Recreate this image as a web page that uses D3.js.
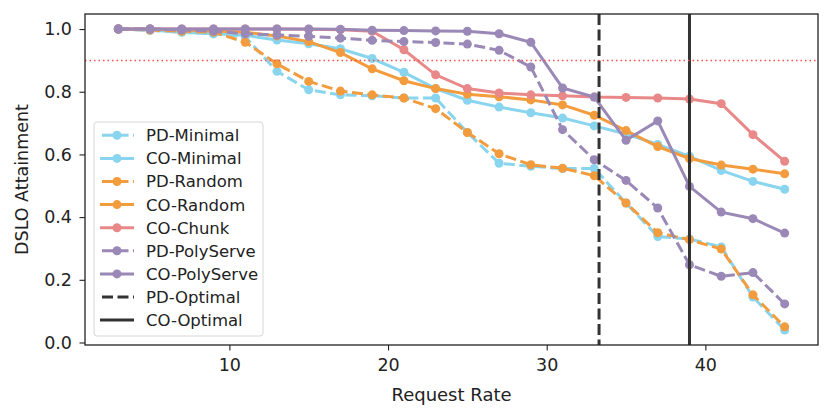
<!DOCTYPE html>
<html>
<head>
<meta charset="utf-8">
<script src="https://cdn.jsdelivr.net/npm/d3@7"></script>
<style>
  body { margin: 0; background: #fff; }
  text { font-family: "DejaVu Sans", sans-serif; fill: #222; }
</style>
</head>
<body>
<svg id="chart" width="831" height="419"></svg>
<script>
// request rates
var rates = [3, 5, 7, 9, 11, 13, 15, 17, 19, 21, 23, 25, 27, 29, 31, 33, 35, 37, 39, 41, 43, 45];

var pdMinimal = [1.0, 0.995, 0.99, 0.985, 0.975, 0.865, 0.806, 0.79, 0.787, 0.78, 0.78, 0.67, 0.572, 0.562, 0.555, 0.555, 0.445, 0.338, 0.33, 0.305, 0.145, 0.04];
var coMinimal = [1.0, 0.997, 0.99, 0.985, 0.98, 0.965, 0.953, 0.937, 0.906, 0.862, 0.81, 0.773, 0.751, 0.733, 0.716, 0.691, 0.665, 0.632, 0.594, 0.549, 0.514, 0.489];
var pdRandom = [1.0, 0.997, 0.993, 0.99, 0.958, 0.889, 0.833, 0.802, 0.79, 0.78, 0.746, 0.67, 0.602, 0.567, 0.556, 0.532, 0.445, 0.35, 0.328, 0.298, 0.152, 0.05];
var coRandom = [1.0, 1.0, 0.997, 0.994, 0.99, 0.978, 0.96, 0.925, 0.873, 0.835, 0.81, 0.792, 0.784, 0.774, 0.758, 0.725, 0.676, 0.625, 0.587, 0.566, 0.553, 0.538];
var coChunk = [1.0, 1.0, 1.0, 1.0, 1.0, 1.0, 0.999, 0.998, 0.993, 0.934, 0.854, 0.81, 0.796, 0.79, 0.787, 0.783, 0.782, 0.78, 0.777, 0.762, 0.663, 0.578];
var pdPoly = [1.0, 1.0, 0.997, 0.993, 0.985, 0.981, 0.977, 0.971, 0.964, 0.96, 0.957, 0.952, 0.932, 0.879, 0.679, 0.583, 0.517, 0.429, 0.248, 0.211, 0.223, 0.123];
var coPoly = [1.0, 1.0, 1.0, 1.0, 1.0, 1.0, 1.0, 0.999, 0.996, 0.995, 0.994, 0.993, 0.985, 0.958, 0.812, 0.783, 0.645, 0.707, 0.498, 0.416, 0.395, 0.349];

var pdOptimal = 33.3;
var coOptimal = 39;
var sloTarget = 0.9;

var yTicks = [0.0, 0.2, 0.4, 0.6, 0.8, 1.0];
var xTicks = [10, 20, 30, 40];

var cyan = '#89d4ee', orange = '#f39c3e', pink = '#e98888', purple = '#9a88b6';

var series = [
  {name: 'PD-Minimal', values: pdMinimal, color: cyan, dashed: true},
  {name: 'CO-Minimal', values: coMinimal, color: cyan, dashed: false},
  {name: 'PD-Random', values: pdRandom, color: orange, dashed: true},
  {name: 'CO-Random', values: coRandom, color: orange, dashed: false},
  {name: 'CO-Chunk', values: coChunk, color: pink, dashed: false},
  {name: 'PD-PolyServe', values: pdPoly, color: purple, dashed: true},
  {name: 'CO-PolyServe', values: coPoly, color: purple, dashed: false}
];

var margin = {top: 14, right: 13, bottom: 74, left: 85};
var width = 831 - margin.left - margin.right;
var height = 419 - margin.top - margin.bottom;

var svg = d3.select('#chart');
var g = svg.append('g').attr('transform', 'translate(' + margin.left + ',' + margin.top + ')');

// matplotlib-style 5% padding
var xPad = (d3.max(rates) - d3.min(rates)) * 0.05;
var allVals = d3.merge(series.map(function (s) { return s.values; }));
var yMin = d3.min(allVals), yMax = d3.max(allVals);
var yPad = (yMax - yMin) * 0.05;

var x = d3.scaleLinear().domain([d3.min(rates) - xPad, d3.max(rates) + xPad]).range([0, width]);
var y = d3.scaleLinear().domain([yMin - yPad, yMax + yPad]).range([height, 0]);

var dash = '11,4.5';

var line = d3.line()
  .x(function (d, i) { return x(rates[i]); })
  .y(function (d) { return y(d); });

series.forEach(function (s) {
  g.append('path')
    .attr('d', line(s.values))
    .attr('fill', 'none')
    .attr('stroke', s.color)
    .attr('stroke-width', 3)
    .attr('stroke-dasharray', s.dashed ? dash : null);
  g.selectAll(null)
    .data(s.values)
    .enter().append('circle')
    .attr('cx', function (d, i) { return x(rates[i]); })
    .attr('cy', function (d) { return y(d); })
    .attr('r', 4.5)
    .attr('fill', s.color);
});

// optimal lines
g.append('line')
  .attr('x1', x(pdOptimal)).attr('x2', x(pdOptimal))
  .attr('y1', 0).attr('y2', height)
  .attr('stroke', '#333').attr('stroke-width', 3)
  .attr('stroke-dasharray', dash);
g.append('line')
  .attr('x1', x(coOptimal)).attr('x2', x(coOptimal))
  .attr('y1', 0).attr('y2', height)
  .attr('stroke', '#333').attr('stroke-width', 3);

// slo target
g.append('line')
  .attr('x1', 0).attr('x2', width)
  .attr('y1', y(sloTarget)).attr('y2', y(sloTarget))
  .attr('stroke', '#ff4d4d').attr('stroke-width', 1.5)
  .attr('stroke-dasharray', '1.5,3');

// axes
var xAxis = g.append('g')
  .attr('transform', 'translate(0,' + height + ')')
  .call(d3.axisBottom(x).tickValues(xTicks).tickSize(5.5).tickPadding(8.5).tickFormat(d3.format('d')));
var yAxis = g.append('g')
  .call(d3.axisLeft(y).tickValues(yTicks).tickSize(5.5).tickPadding(7.5).tickFormat(d3.format('.1f')));
[xAxis, yAxis].forEach(function (a) {
  a.select('.domain').remove();
  a.selectAll('line').attr('stroke', '#222').attr('stroke-width', 1.1);
  a.selectAll('text').style('font-size', '17.5px').attr('fill', '#222');
});

g.append('rect')
  .attr('width', width).attr('height', height)
  .attr('fill', 'none').attr('stroke', '#222').attr('stroke-width', 1.3);

svg.append('text')
  .attr('x', margin.left + width / 2).attr('y', 401)
  .attr('text-anchor', 'middle').style('font-size', '18px')
  .text('Request Rate');
svg.append('text')
  .attr('transform', 'translate(28,' + (margin.top + height / 2) + ') rotate(-90)')
  .attr('text-anchor', 'middle').style('font-size', '17.5px')
  .text('DSLO Attainment');

// legend
var legendItems = series.concat([
  {name: 'PD-Optimal', color: '#333', dashed: true, noMarker: true},
  {name: 'CO-Optimal', color: '#333', dashed: false, noMarker: true}
]);
var lg = g.append('g').attr('transform', 'translate(9,108)');
lg.append('rect')
  .attr('width', 169).attr('height', 214)
  .attr('rx', 3)
  .attr('fill', 'rgba(255,255,255,0.85)')
  .attr('stroke', '#d6d6d6').attr('stroke-width', 1);
var rowH = 23.1;
legendItems.forEach(function (s, i) {
  var cy = 13.3 + i * rowH;
  var row = lg.append('g').attr('transform', 'translate(0,' + cy + ')');
  row.append('line')
    .attr('x1', 6).attr('x2', 40).attr('y1', 0).attr('y2', 0)
    .attr('stroke', s.color).attr('stroke-width', 3)
    .attr('stroke-dasharray', s.dashed ? '11,4.5' : null)
    .attr('stroke-dashoffset', s.dashed ? -2 : null);
  if (!s.noMarker) {
    row.append('circle').attr('cx', 23).attr('cy', 0).attr('r', 4.5).attr('fill', s.color);
  }
  row.append('text')
    .attr('x', 52).attr('y', 0).attr('dy', '0.36em')
    .style('font-size', '16.5px')
    .text(s.name);
});
</script>
</body>
</html>
